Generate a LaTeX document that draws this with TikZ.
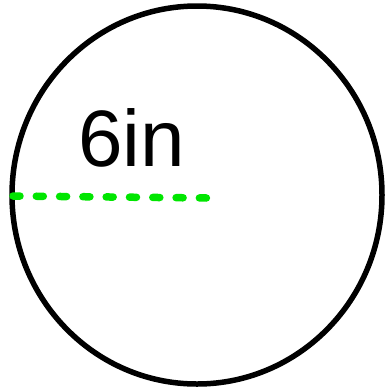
\documentclass[tikz,border=0pt]{standalone}
\usepackage{fontspec}
\setmainfont{Liberation Sans}
\begin{document}
\begin{tikzpicture}[x=1pt,y=-1pt,
  rim/.style={draw=black,line width=5.5pt},
  radiusline/.style={draw=radgreen,line width=7.5pt,line cap=round,dash pattern=on 7pt off 16.3pt},
  lbl/.style={font=\fontsize{80}{80}\selectfont,inner sep=0pt,anchor=base west}]
\definecolor{radgreen}{RGB}{0,230,0}
\useasboundingbox (0,0) rectangle (390,389);
\fill[white] (0,0) rectangle (390,389);
\draw[rim] (197,195) ellipse [x radius=185, y radius=189];
\coordinate (rl) at (13,196);
\coordinate (rr) at (207,198);
\draw[radiusline] (rl) -- (rr);
\node[lbl] (t) at (78,166) {6in};
\end{tikzpicture}
\end{document}
